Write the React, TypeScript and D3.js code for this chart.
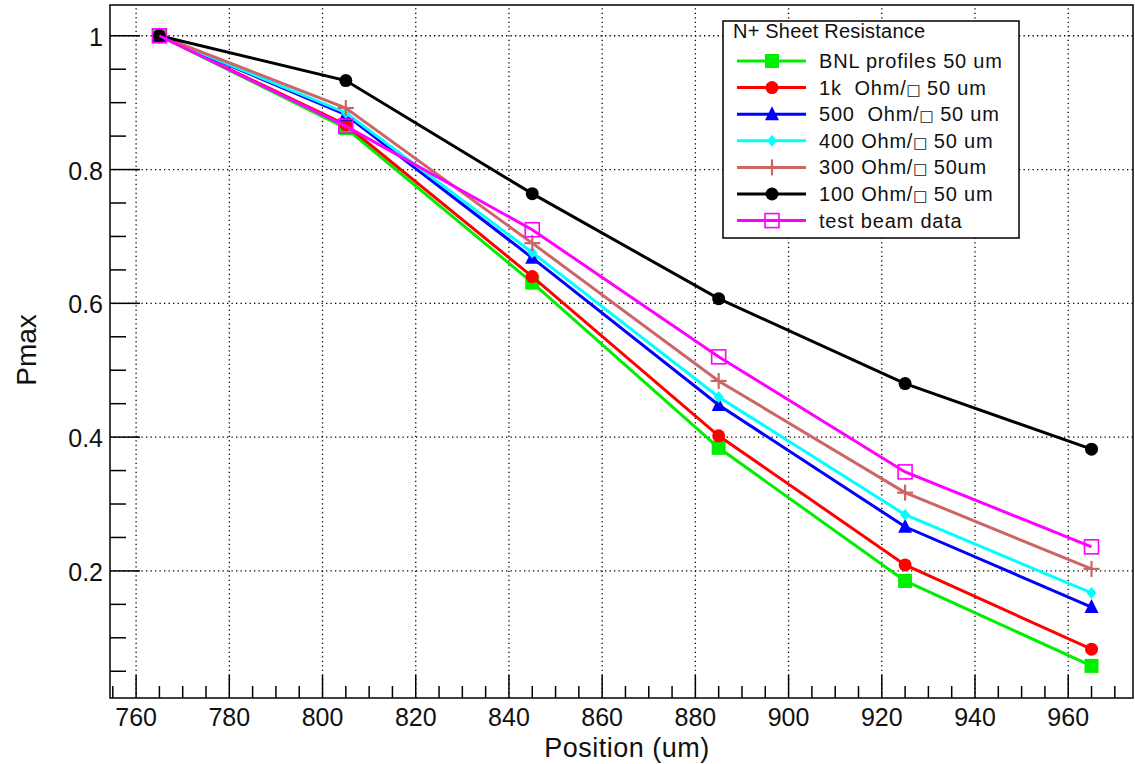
import React from "react";
import * as d3 from "d3";

// positions (um) where Pmax was measured
const positions = [765, 805, 845, 885, 925, 965];

const bnl = [1.0, 0.862, 0.631, 0.384, 0.185, 0.058];
const ohm1k = [1.0, 0.867, 0.64, 0.402, 0.209, 0.083];
const ohm500 = [1.0, 0.882, 0.668, 0.448, 0.266, 0.146];
const ohm400 = [1.0, 0.885, 0.676, 0.46, 0.284, 0.167];
const ohm300 = [1.0, 0.892, 0.69, 0.484, 0.317, 0.203];
const ohm100 = [1.0, 0.933, 0.764, 0.607, 0.48, 0.382];
const testBeam = [1.0, 0.865, 0.71, 0.52, 0.348, 0.236];

const xTicks = [760, 780, 800, 820, 840, 860, 880, 900, 920, 940, 960];
const yTicks = [0.2, 0.4, 0.6, 0.8, 1];

const W = 1135;
const H = 764;
const margin = { left: 110, right: 2, top: 5, bottom: 66 };
const FONT = "'Liberation Sans', Arial, Helvetica, sans-serif";

const series = [
  { name: "BNL profiles 50 um", values: bnl, color: "#00ee00", marker: "square" },
  { name: "1k  Ohm/", tail: " 50 um", values: ohm1k, color: "#ff0000", marker: "circle" },
  { name: "500  Ohm/", tail: " 50 um", values: ohm500, color: "#0000ff", marker: "triangle" },
  { name: "400 Ohm/", tail: " 50 um", values: ohm400, color: "#00ffff", marker: "diamond" },
  { name: "300 Ohm/", tail: " 50um", values: ohm300, color: "#cc6666", marker: "plus" },
  { name: "100 Ohm/", tail: " 50 um", values: ohm100, color: "#000000", marker: "circle" },
  { name: "test beam data", values: testBeam, color: "#ff00ff", marker: "openSquare" },
];

const Marker = ({ type, color, x, y }) => {
  if (type === "square")
    return <rect x={x - 7} y={y - 7} width={14} height={14} fill={color} />;
  if (type === "openSquare")
    return (
      <rect x={x - 7} y={y - 7} width={14} height={14} fill="none" stroke={color} strokeWidth={1.6} />
    );
  if (type === "circle") return <circle cx={x} cy={y} r={6.5} fill={color} />;
  if (type === "triangle")
    return <path d={`M${x},${y - 8}L${x + 7},${y + 6}L${x - 7},${y + 6}Z`} fill={color} />;
  if (type === "diamond")
    return <path d={`M${x},${y - 6}L${x + 5},${y}L${x},${y + 6}L${x - 5},${y}Z`} fill={color} />;
  if (type === "plus")
    return (
      <g stroke={color} strokeWidth={2.2}>
        <line x1={x - 8} x2={x + 8} y1={y} y2={y} />
        <line x1={x} x2={x} y1={y - 8} y2={y + 8} />
      </g>
    );
  return null;
};

export default function App() {
  const x = d3
    .scaleLinear()
    .domain([754.4, 973.9])
    .range([margin.left, W - margin.right]);
  const y = d3
    .scaleLinear()
    .domain([0.01, 1.046])
    .range([H - margin.bottom, margin.top]);

  const x0 = margin.left;
  const x1 = W - margin.right;
  const y0 = H - margin.bottom;
  const y1 = margin.top;

  const xMinor = d3.range(755, 975, 5).filter((v) => v % 20 !== 0);
  const yMinor = d3.range(0.05, 1.04, 0.05).filter((v) => Math.abs(v * 5 - Math.round(v * 5)) > 1e-6);

  const line = d3
    .line<number>()
    .x((_, i) => x(positions[i]))
    .y((d) => y(d));

  const legX = 723;
  const legY = 21;
  const rowH = 26.6;

  return (
    <svg
      width={W}
      height={H}
      style={{ position: "absolute", left: 0, top: 0, background: "#fff" }}
      fontFamily={FONT}
    >
      {/* grid */}
      <g stroke="#000" strokeWidth={1.3} strokeDasharray="1.3,3.2">
        {xTicks.map((t) => (
          <line key={"gx" + t} x1={x(t)} x2={x(t)} y1={y0} y2={y1} />
        ))}
        {yTicks.map((t) => (
          <line key={"gy" + t} x1={x0} x2={x1} y1={y(t)} y2={y(t)} />
        ))}
      </g>

      {/* ticks */}
      <g stroke="#000" strokeWidth={1.5}>
        {xTicks.map((t) => (
          <line key={"tx" + t} x1={x(t)} x2={x(t)} y1={y0} y2={y0 - 23} />
        ))}
        {xMinor.map((t) => (
          <line key={"mx" + t} x1={x(t)} x2={x(t)} y1={y0} y2={y0 - 12} />
        ))}
        {yTicks.map((t) => (
          <line key={"ty" + t} x1={x0} x2={x0 + 30} y1={y(t)} y2={y(t)} />
        ))}
        {yMinor.map((t) => (
          <line key={"my" + t} x1={x0} x2={x0 + 16} y1={y(t)} y2={y(t)} />
        ))}
      </g>

      {/* frame */}
      <rect
        x={x0}
        y={y1}
        width={x1 - x0}
        height={y0 - y1}
        fill="none"
        stroke="#000"
        strokeWidth={1.5}
      />

      {/* tick labels */}
      <g fontSize={25} fill="#111">
        {xTicks.map((t) => (
          <text key={"lx" + t} x={x(t)} y={y0 + 28} textAnchor="middle">
            {t}
          </text>
        ))}
        {yTicks.map((t) => (
          <text key={"ly" + t} x={x0 - 7} y={y(t) + 10} textAnchor="end">
            {d3.format("")(t)}
          </text>
        ))}
      </g>

      {/* axis titles */}
      <text x={627} y={757} fontSize={27} textAnchor="middle" fill="#111" letterSpacing={0.5}>
        Position (um)
      </text>
      <text
        transform={`translate(36, 350) rotate(-90)`}
        fontSize={28}
        textAnchor="middle"
        fill="#111"
      >
        Pmax
      </text>

      {/* series */}
      {series.map((s) => (
        <g key={s.name}>
          <path d={line(s.values) || ""} fill="none" stroke={s.color} strokeWidth={3} />
          {s.values.map((v, i) => (
            <Marker key={i} type={s.marker} color={s.color} x={x(positions[i])} y={y(v)} />
          ))}
        </g>
      ))}

      {/* legend */}
      <g>
        <rect
          x={legX}
          y={legY}
          width={296}
          height={217}
          fill="#fff"
          stroke="#000"
          strokeWidth={1.5}
        />
        <text x={legX + 10} y={legY + 17} fontSize={20} fill="#111" letterSpacing={0.2}>
          N+ Sheet Resistance
        </text>
        {series.map((s, i) => {
          const cy = legY + 40 + i * rowH;
          return (
            <g key={"leg" + s.name}>
              <line x1={legX + 14} x2={legX + 83} y1={cy} y2={cy} stroke={s.color} strokeWidth={3} />
              <Marker type={s.marker} color={s.color} x={legX + 49} y={cy} />
              <text
                x={legX + 96}
                y={cy + 7}
                fontSize={20}
                fill="#111"
                letterSpacing={0.8}
                style={{ whiteSpace: "pre" }}
              >
                {s.name}
                {s.tail !== undefined && (
                  <>
                    <tspan fontWeight="bold" fontSize={15} fontFamily="DejaVu Sans" letterSpacing={0}>
                      {"\u25A1"}
                    </tspan>
                    {s.tail}
                  </>
                )}
              </text>
            </g>
          );
        })}
      </g>
    </svg>
  );
}
